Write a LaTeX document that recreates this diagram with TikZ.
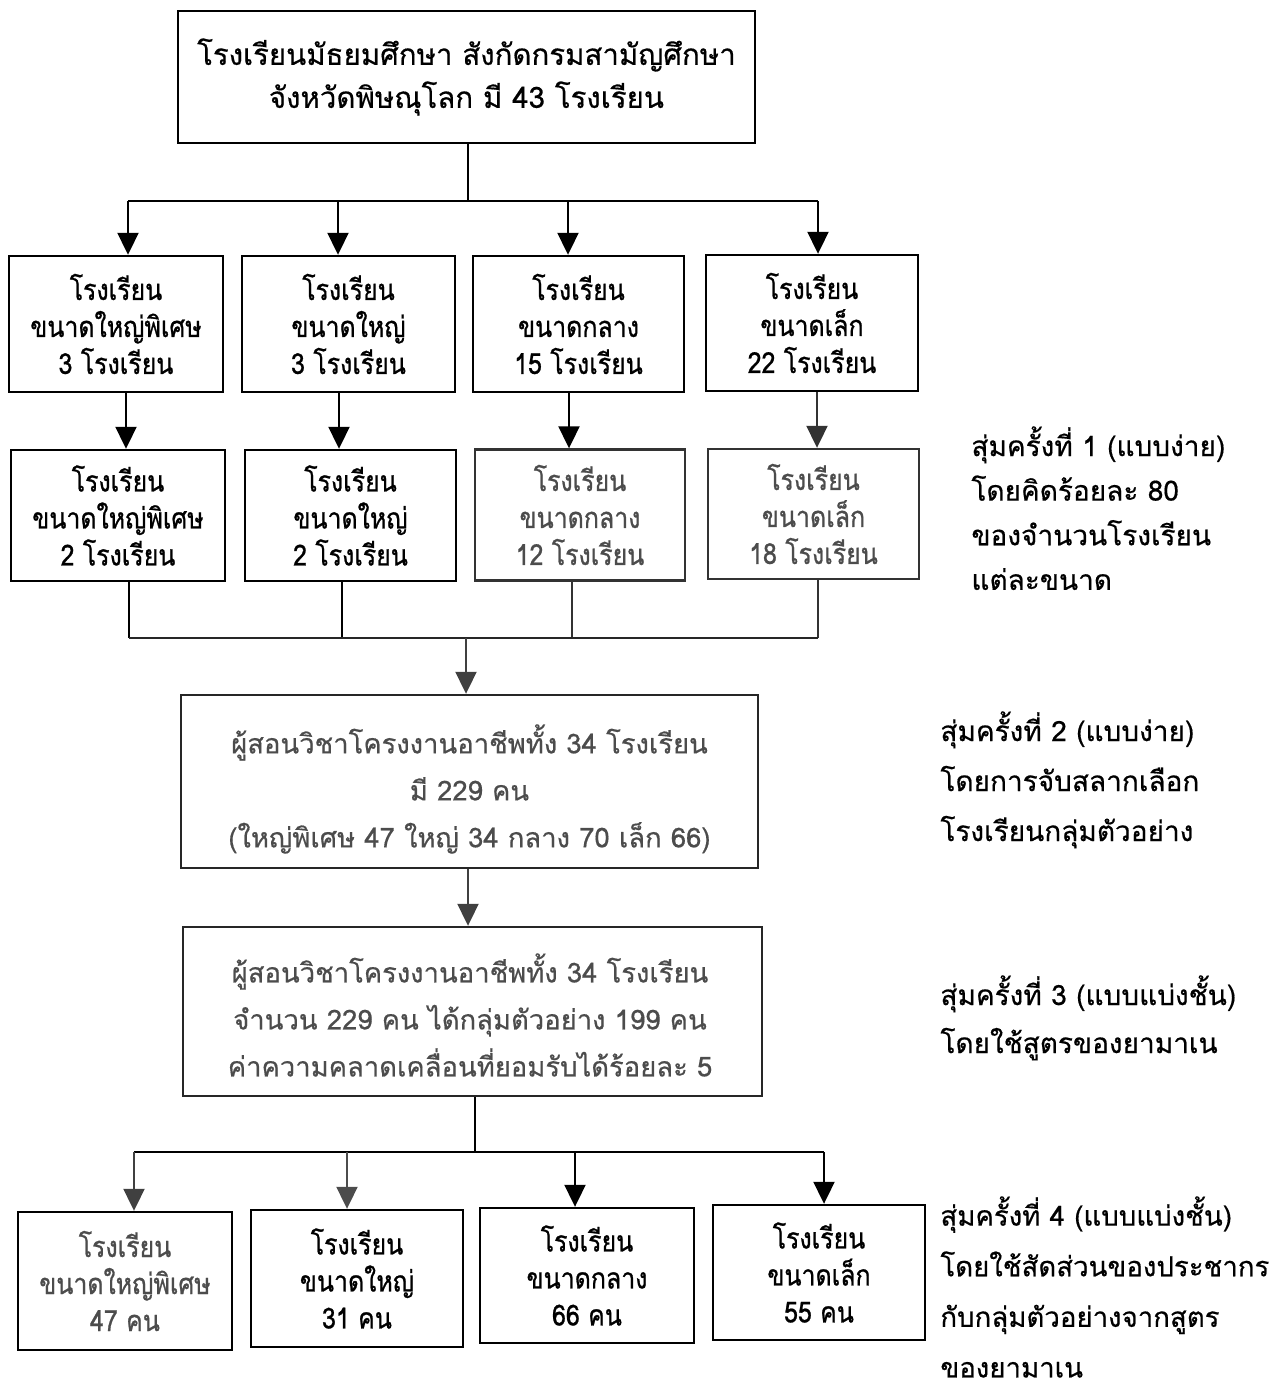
\documentclass[tikz,border=0pt]{standalone}
\usepackage{fontspec}
\setmainfont[Script=Thai,FakeBold=0.5]{Loma}
\newfontfamily\rowfont[Script=Thai,FakeBold=0.8,FakeStretch=0.86]{Loma}
\usetikzlibrary{arrows.meta}
\begin{document}
\begin{tikzpicture}[x=0.5pt,y=-0.5pt,
  box/.style={draw=black,line width=1.2pt,inner sep=0pt,align=center,
    font=\rowfont\fontsize{14.5}{18.5}\selectfont},
  conn/.style={line width=1pt},
  arr/.style={line width=1pt,-{Triangle[width=10.5pt,length=11pt]}},
  note/.style={anchor=north west,align=left,inner sep=0pt},
  midtext/.style={align=center,inner sep=0pt,text=black!70,font=\fontsize{13.7}{23.5}\selectfont}
]
\useasboundingbox (0,0) rectangle (1270,1392);
% top
\node[box,minimum width=288.5pt,minimum height=66pt,font=\normalfont\fontsize{14.7}{21.5}\selectfont] (top) at (466.5,77)
  {โรงเรียนมัธยมศึกษา สังกัดกรมสามัญศึกษา\\จังหวัดพิษณุโลก มี 43 โรงเรียน};
% row 1
\node[box,minimum width=107pt,minimum height=68pt] (r1a) at (116,324) {โรงเรียน\\ขนาดใหญ่พิเศษ\\3 โรงเรียน};
\node[box,minimum width=106.5pt,minimum height=68pt] (r1b) at (348.5,324) {โรงเรียน\\ขนาดใหญ่\\3 โรงเรียน};
\node[box,minimum width=105.5pt,minimum height=68pt] (r1c) at (578.5,324) {โรงเรียน\\ขนาดกลาง\\15 โรงเรียน};
\node[box,minimum width=106pt,minimum height=68pt] (r1d) at (812,323) {โรงเรียน\\ขนาดเล็ก\\22 โรงเรียน};
% row 2
\node[box,minimum width=107pt,minimum height=65.5pt] (r2a) at (118,515.5) {โรงเรียน\\ขนาดใหญ่พิเศษ\\2 โรงเรียน};
\node[box,minimum width=105.5pt,minimum height=65.5pt] (r2b) at (350.5,515.5) {โรงเรียน\\ขนาดใหญ่\\2 โรงเรียน};
\node[box,minimum width=105pt,minimum height=65.5pt,draw=black!80,text=black!70] (r2c) at (580,515) {โรงเรียน\\ขนาดกลาง\\12 โรงเรียน};
\node[box,minimum width=105.5pt,minimum height=65pt,draw=black!80,text=black!70] (r2d) at (813.5,514) {โรงเรียน\\ขนาดเล็ก\\18 โรงเรียน};
% middle
\node[box,minimum width=288.5pt,minimum height=86.5pt,draw=black!85] (m1) at (469.5,781.5) {};
\node[midtext] (m1t) at (469.5,789)
  {ผู้สอนวิชาโครงงานอาชีพทั้ง 34 โรงเรียน\\มี 229 คน\\(ใหญ่พิเศษ 47 ใหญ่ 34 กลาง 70 เล็ก 66)};
\node[box,minimum width=289.5pt,minimum height=84.5pt,draw=black!85] (m2) at (472.5,1011.5) {};
\node[midtext] (m2t) at (470,1015)
  {ผู้สอนวิชาโครงงานอาชีพทั้ง 34 โรงเรียน\\จำนวน 229 คน ได้กลุ่มตัวอย่าง 199 คน\\ค่าความคลาดเคลื่อนที่ยอมรับได้ร้อยละ 5};
% row 4
\node[box,minimum width=107pt,minimum height=69pt,text=black!70] (r4a) at (125,1281) {โรงเรียน\\ขนาดใหญ่พิเศษ\\47 คน};
\node[box,minimum width=106pt,minimum height=68.5pt] (r4b) at (357,1278.5) {โรงเรียน\\ขนาดใหญ่\\31 คน};
\node[box,minimum width=107pt,minimum height=67.5pt] (r4c) at (587,1275.5) {โรงเรียน\\ขนาดกลาง\\66 คน};
\node[box,minimum width=106pt,minimum height=67.5pt] (r4d) at (819,1272.5) {โรงเรียน\\ขนาดเล็ก\\55 คน};
% notes
\node[note,font=\fontsize{14}{22.3}\selectfont] (n1) at (971,426) {สุ่มครั้งที่ 1 (แบบง่าย)\\โดยคิดร้อยละ 80\\ของจำนวนโรงเรียน\\แต่ละขนาด};
\node[note,font=\fontsize{14}{25}\selectfont] (n2) at (940,711) {สุ่มครั้งที่ 2 (แบบง่าย)\\โดยการจับสลากเลือก\\โรงเรียนกลุ่มตัวอย่าง};
\node[note,font=\fontsize{14}{24}\selectfont] (n3) at (940,975) {สุ่มครั้งที่ 3 (แบบแบ่งชั้น)\\โดยใช้สูตรของยามาเน};
\node[note,font=\fontsize{13.8}{25.3}\selectfont] (n4) at (940,1196) {สุ่มครั้งที่ 4 (แบบแบ่งชั้น)\\โดยใช้สัดส่วนของประชากร\\กับกลุ่มตัวอย่างจากสูตร\\ของยามาเน};
% coordinates
\coordinate (j0) at (468,201);
\coordinate (ja) at (128,201);
\coordinate (jb) at (338,201);
\coordinate (jc) at (568,201);
\coordinate (jd) at (818,201);
\coordinate (ka) at (126,0);
\coordinate (kb) at (339,0);
\coordinate (kc) at (569,0);
\coordinate (kd) at (817,0);
\coordinate (la) at (129,638);
\coordinate (lb) at (342,638);
\coordinate (lc) at (572,638);
\coordinate (ld) at (818,638);
\coordinate (l0) at (466,638);
\coordinate (mm) at (468,0);
\coordinate (p0) at (475,1152);
\coordinate (pa) at (134,1152);
\coordinate (pb) at (347,1152);
\coordinate (pc) at (575,1152);
\coordinate (pd) at (824,1152);
% connectors top
\draw[conn] (top.south -| j0) -- (j0);
\draw[conn] (ja) -- (jd);
\draw[arr] (ja) -- (ja |- r1a.north);
\draw[arr] (jb) -- (jb |- r1b.north);
\draw[arr] (jc) -- (jc |- r1c.north);
\draw[arr] (jd) -- (jd |- r1d.north);
% row1 -> row2
\draw[arr] (r1a.south -| ka) -- (r2a.north -| ka);
\draw[arr] (r1b.south -| kb) -- (r2b.north -| kb);
\draw[arr] (r1c.south -| kc) -- (r2c.north -| kc);
\draw[arr,black!80] (r1d.south -| kd) -- (r2d.north -| kd);
% row2 -> m1
\draw[conn] (r2a.south -| la) -- (la);
\draw[conn] (r2b.south -| lb) -- (lb);
\draw[conn,black!80] (r2c.south -| lc) -- (lc);
\draw[conn,black!80] (r2d.south -| ld) -- (ld);
\draw[conn,black!85] (la) -- (ld);
\draw[arr,black!75] (l0) -- (l0 |- m1.north);
% m1 -> m2
\draw[arr,black!75] (m1.south -| mm) -- (m2.north -| mm);
% m2 -> row4
\draw[conn] (m2.south -| p0) -- (p0);
\draw[conn] (pa) -- (pd);
\draw[arr,black!75] (pa) -- (pa |- r4a.north);
\draw[arr,black!70] (pb) -- (pb |- r4b.north);
\draw[arr] (pc) -- (pc |- r4c.north);
\draw[arr] (pd) -- (pd |- r4d.north);
\end{tikzpicture}
\end{document}
